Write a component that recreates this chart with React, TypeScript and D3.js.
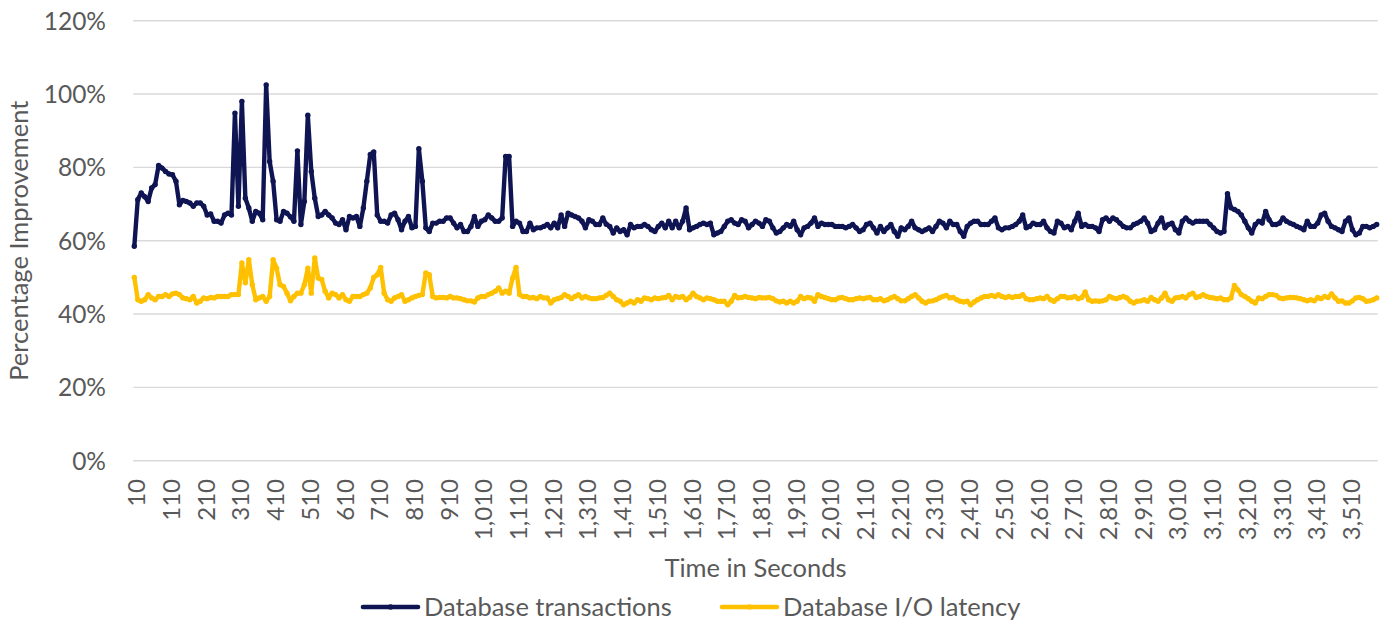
import React from "react";
import * as d3 from "d3";

// Category axis: seconds, one sample every 10 s
const times: number[] = d3.range(10, 3600, 10);

// Series values in percent
const transactions: number[] = [
  58.5, 71.2, 73, 72, 70.7, 74.4, 75.3, 80.5, 79.8, 78.9,
  78.2, 78, 76.2, 69.8, 71, 70.7, 70.3, 69.4, 70.3, 70.3,
  69.4, 67, 67.3, 65.3, 65.3, 64.8, 67, 67.5, 67, 94.8,
  69.4, 98, 71.6, 68.9, 65.3, 68, 67.5, 65.7, 102.5, 81.6,
  76.2, 65.7, 65.3, 68, 67.5, 66.5, 65.3, 84.5, 64.4, 70.7,
  94.2, 78.9, 71.6, 66.6, 67, 68, 67, 66.2, 64.8, 64.4,
  65.7, 63, 66.6, 66.2, 66.6, 63.9, 68.9, 76.2, 83.5, 84.2,
  67, 65.3, 65.3, 64.8, 67, 67.5, 65.7, 63, 65.3, 66.6,
  63.5, 63.9, 85.1, 76.2, 63.5, 62.5, 64.8, 64.8, 65.3, 65.3,
  66.2, 66.2, 64.8, 63.5, 64.4, 62.5, 62.5, 63.9, 66.6, 63.9,
  65.3, 65.7, 67, 66.2, 65.3, 65.3, 66.2, 83, 83, 63.9,
  65.3, 64.8, 62.5, 62.5, 64.8, 63, 63.5, 63.5, 63.9, 64.4,
  63.5, 64.8, 63.5, 67, 63.9, 67.5, 67, 66.6, 66.2, 65.3,
  63.5, 65.7, 65.3, 64.4, 64.4, 66.2, 64.5, 63.9, 62.1, 63.5,
  62.5, 63, 61.6, 64.4, 63.5, 63.9, 63.9, 64.4, 63.9, 63,
  62.5, 63.9, 64.8, 63.5, 65.3, 63.5, 65.3, 63.5, 65.3, 68.9,
  63, 63.5, 63.9, 64.4, 64.8, 64.4, 64.8, 61.6, 62.1, 62.5,
  63.9, 65.3, 65.7, 64.8, 64.4, 65.7, 65.3, 63.5, 64.4, 65.3,
  64.8, 63.9, 65.7, 65.3, 63.5, 62.1, 62.5, 63.5, 64.4, 63.9,
  65.3, 63, 61.6, 63.5, 63.9, 64.8, 66.2, 63.9, 64.8, 64.4,
  64.4, 64.4, 63.9, 63.9, 63.9, 63.5, 63.9, 64.4, 63.5, 62.5,
  63, 64.4, 64.8, 63.5, 62.1, 63.9, 62.5, 63.5, 64.4, 62.5,
  61.2, 63.5, 63, 63.9, 65.3, 63.5, 63, 62.5, 63, 63.5,
  62.5, 63.9, 65.3, 64.8, 63.5, 65.3, 64.4, 64.4, 62.5, 61.2,
  63.9, 64.8, 65.3, 65.3, 64.4, 64.4, 64.4, 65.3, 66.2, 63.5,
  63, 63.5, 63.5, 63.9, 64.4, 65.3, 67, 63.5, 63.9, 64.8,
  64.4, 64.4, 65.3, 63.5, 62.5, 62.1, 65.3, 64.8, 63.5, 63.9,
  63, 65.3, 67.5, 63.9, 64.4, 63.9, 63.9, 63.5, 62.5, 65.7,
  66.2, 65.3, 66.2, 65.7, 64.8, 63.9, 63.5, 63.5, 64.4, 64.8,
  65.3, 66.2, 64.8, 62.5, 63, 64.8, 66.2, 63.5, 64.4, 64.8,
  63, 62.1, 65.3, 66.2, 65.3, 64.8, 65.3, 65.3, 65.3, 65.3,
  64.4, 63.5, 62.5, 62.1, 62.5, 72.8, 69, 68.5, 68, 67,
  65.3, 63.5, 62.1, 64.4, 65.3, 64.8, 68, 65.7, 64.4, 64.4,
  64.8, 66.2, 65.3, 64.8, 64.4, 63.9, 63.5, 63, 65.3, 63.9,
  63.9, 64.8, 67, 67.5, 65.3, 63.9, 63.5, 63, 62.5, 65.3,
  66.2, 63, 61.6, 62.1, 63.9, 63.9, 63.5, 63.9, 64.4,
];

const ioLatency: number[] = [
  50, 43.9, 43.5, 43.9, 45.3, 44.4, 43.9, 44.8, 44.8, 45.3,
  44.8, 45.5, 45.7, 45.3, 44.4, 44.2, 43.9, 44.8, 43, 43.5,
  44.4, 44.2, 44.5, 44.4, 44.8, 44.8, 44.8, 44.8, 45.3, 45.3,
  45.3, 53.9, 48.5, 54.8, 48, 43.9, 44.4, 44.8, 43.5, 44.8,
  54.8, 52.5, 48, 47.5, 45.7, 43.6, 44.8, 45.7, 45.7, 48,
  52.5, 45.7, 55.3, 49.8, 49.4, 46.2, 44.4, 45.7, 45.3, 44.4,
  45.3, 43.9, 43.5, 44.8, 44.8, 44.8, 45.3, 45.7, 47.1, 50,
  50.7, 52.7, 45.7, 43.9, 43.5, 44.4, 44.8, 45.3, 43.5, 43.9,
  44.4, 44.8, 45.1, 45.3, 51.2, 50.7, 44.8, 44.4, 44.5, 44.5,
  44.4, 44.8, 44.4, 44.4, 44.2, 43.9, 43.6, 43.6, 43.3, 44.4,
  44.8, 44.8, 45.3, 45.7, 46.2, 47.1, 45.7, 46.2, 45.7, 49.8,
  52.7, 45.3, 44.8, 44.8, 44.4, 44.5, 44.2, 44.8, 44.4, 44.4,
  43, 43.9, 44.2, 44.5, 45.3, 44.8, 44.2, 44.8, 45.3, 44.4,
  44.8, 44.4, 44.2, 44.2, 44.4, 44.5, 45.1, 45.7, 44.8, 43.9,
  43.5, 42.5, 43, 43.5, 43, 43.9, 43.5, 44.4, 44.2, 43.9,
  44.4, 44.2, 44.4, 44.5, 45.1, 43.9, 44.8, 44.5, 44.8, 43.9,
  44.5, 45.7, 44.8, 44.4, 43.9, 44.4, 44.2, 43.9, 43.5, 43.5,
  43.5, 42.5, 43.5, 45.1, 44.4, 44.5, 44.8, 44.5, 44.4, 44.2,
  44.5, 44.4, 44.4, 44.5, 44.2, 43.6, 43.3, 43.5, 43, 43.5,
  43, 43.5, 44.8, 44.2, 44.5, 44.4, 43.5, 45.3, 44.8, 44.5,
  44.2, 43.9, 43.9, 44.4, 44.5, 44.2, 43.9, 43.9, 44.2, 44.4,
  44.2, 44.4, 44.5, 43.9, 43.9, 44.2, 43.6, 43.9, 44.4, 44.8,
  44.2, 43.6, 43.6, 44.2, 44.8, 45.3, 44.4, 43.5, 43, 43.5,
  43.6, 43.9, 44.4, 44.8, 45.1, 44.4, 44.5, 43.9, 43.5, 43.3,
  43.5, 42.5, 43.3, 43.9, 44.4, 44.8, 44.8, 45.1, 44.8, 45.3,
  44.8, 44.5, 44.8, 44.5, 44.8, 44.8, 45.3, 44.2, 43.9, 43.9,
  44.2, 44.4, 44.2, 44.8, 43.9, 43.5, 44.2, 44.8, 44.8, 44.4,
  44.5, 44.8, 44.2, 44.5, 46, 43.9, 43.5, 43.6, 43.5, 43.6,
  43.9, 44.8, 44.4, 44.2, 44.5, 44.8, 44.4, 43.5, 43, 43.5,
  43.6, 43.9, 43.5, 44.5, 43.9, 43.5, 44.4, 45.7, 43.9, 43.5,
  44.4, 44.5, 44.8, 44.4, 45.3, 45.7, 44.5, 44.8, 45.3, 44.8,
  44.5, 44.4, 44.2, 44.4, 43.9, 43.9, 44.4, 47.8, 46.6, 45.3,
  44.8, 44.2, 43.5, 43, 44.4, 44.2, 44.8, 45.3, 45.3, 45.1,
  44.4, 44.2, 44.4, 44.5, 44.5, 44.4, 44.2, 43.9, 43.6, 43.9,
  43.6, 44.5, 44.2, 44.8, 44.5, 45.5, 44.4, 43.5, 43.6, 43,
  43, 43.6, 44.4, 44.5, 44.2, 43.5, 43.6, 43.9, 44.4,
];

const yTicks: number[] = [0, 20, 40, 60, 80, 100, 120];
const xTickTimes: number[] = times.filter((_, i) => i % 10 === 0);
const seriesNames: string[] = ["Database transactions", "Database I/O latency"];
const seriesColors: string[] = ["#0F1452", "#FFC000"];
const yAxisTitle = "Percentage Improvement";
const xAxisTitle = "Time in Seconds";

const FONT = "Lato, 'Open Sans', sans-serif";
const TEXT = "#595959";

export default function App() {
  const W = 1387;
  const H = 622;
  const plotLeft = 133.3;
  const plotRight = 1377.7;
  const x = d3.scalePoint<number>().domain(times).range([134.3, 1376.7]);
  const y = d3.scaleLinear().domain([0, 120]).range([460.7, 20.7]);
  const fmt = d3.format(",");

  const line = d3
    .line<number>()
    .x((_, i) => x(times[i]) as number)
    .y((d) => y(d));

  const series = [transactions, ioLatency];

  const legendItems = [
    { x0: 363, x1: 418, tx: 424 },
    { x0: 722, x1: 777, tx: 783 },
  ];

  return (
    <svg
      width={W}
      height={H}
      style={{ position: "absolute", left: 0, top: 0, background: "#fff", display: "block" }}
      fontFamily={FONT}
    >
      <rect x={0} y={0} width={W} height={H} fill="#fff" />
      {/* gridlines */}
      {yTicks.map((t) => (
        <line
          key={"g" + t}
          x1={plotLeft}
          x2={plotRight}
          y1={y(t)}
          y2={y(t)}
          stroke="#D9D9D9"
          strokeWidth={1.4}
        />
      ))}
      {/* y tick labels */}
      {yTicks.map((t) => (
        <text
          key={"yl" + t}
          x={106}
          y={y(t) + 8.8}
          textAnchor="end"
          fontSize={24.5}
          fill={TEXT}
        >
          {t + "%"}
        </text>
      ))}
      {/* x tick labels */}
      {xTickTimes.map((t) => (
        <text
          key={"xl" + t}
          transform={`translate(${(x(t) as number) + 11},479) rotate(-90)`}
          textAnchor="end"
          fontSize={24}
          fill={TEXT}
        >
          {fmt(t)}
        </text>
      ))}
      {/* axis titles */}
      <text
        transform={`translate(28,${(y(0) + y(120)) / 2}) rotate(-90)`}
        textAnchor="middle"
        fontSize={25.5}
        fill={TEXT}
      >
        {yAxisTitle}
      </text>
      <text x={(plotLeft + plotRight) / 2} y={577} textAnchor="middle" fontSize={25.5} fill={TEXT}>
        {xAxisTitle}
      </text>
      {/* series lines */}
      {series.map((vals, s) => (
        <g key={"s" + s}>
          <path
            d={line(vals) || ""}
            fill="none"
            stroke={seriesColors[s]}
            strokeWidth={4.4}
            strokeLinejoin="round"
            strokeLinecap="round"
          />
          {vals.map((v, i) => (
            <circle key={i} cx={x(times[i]) as number} cy={y(v)} r={2.7} fill={seriesColors[s]} />
          ))}
        </g>
      ))}
      {/* legend */}
      {legendItems.map((it, s) => (
        <g key={"lg" + s}>
          <line
            x1={it.x0}
            x2={it.x1}
            y1={607}
            y2={607}
            stroke={seriesColors[s]}
            strokeWidth={4.6}
            strokeLinecap="round"
          />
          <circle cx={(it.x0 + it.x1) / 2} cy={607} r={2.8} fill={seriesColors[s]} />
          <text x={it.tx} y={616} fontSize={25.5} fill={TEXT}>
            {seriesNames[s]}
          </text>
        </g>
      ))}
    </svg>
  );
}
